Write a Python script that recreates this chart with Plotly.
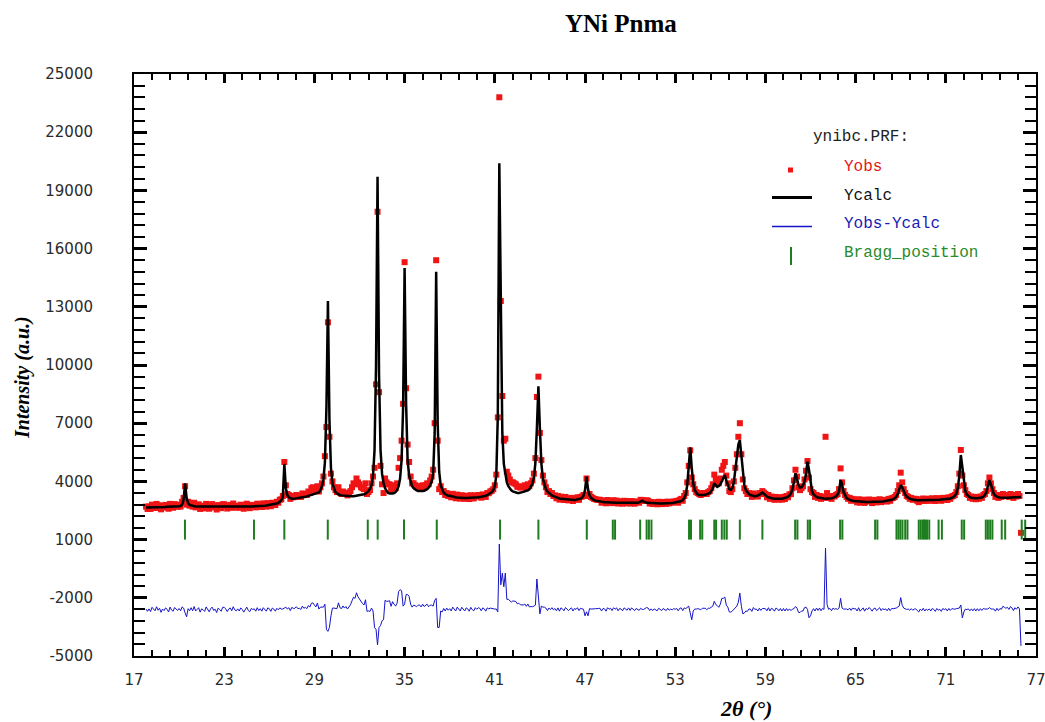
import plotly.graph_objects as go

# ---------------- data ----------------
scan_start = 17.8      # first 2-theta of the step scan
scan_step = 0.1        # step of the scan (deg)

# Ycalc, one row per degree (x.0 ... x.9)
y_calc = (
    [2650, 2650] +                                                   # 17.8-17.9
    [2650, 2660, 2660, 2660, 2670, 2670, 2670, 2680, 2680, 2680] +   # 18
    [2680, 2680, 2690, 2690, 2690, 2700, 2700, 2700, 2710, 2710] +   # 19
    [2720, 2740, 2790, 3050, 3900, 3150, 2880, 2790, 2760, 2740] +   # 20
    [2720, 2710, 2700, 2700, 2690, 2690, 2680, 2680, 2680, 2680] +   # 21
    [2680, 2680, 2680, 2680, 2680, 2680, 2680, 2680, 2680, 2680] +   # 22
    [2680, 2680, 2680, 2680, 2680, 2680, 2690, 2690, 2690, 2690] +   # 23
    [2690, 2690, 2690, 2700, 2700, 2700, 2700, 2710, 2710, 2710] +   # 24
    [2720, 2720, 2730, 2730, 2740, 2740, 2750, 2750, 2760, 2770] +   # 25
    [2780, 2790, 2800, 2820, 2840, 2860, 2890, 2940, 3030, 3200] +   # 26
    [4900, 3650, 3300, 3180, 3130, 3110, 3100, 3110, 3130, 3150] +   # 27
    [3160, 3170, 3180, 3200, 3210, 3230, 3250, 3270, 3300, 3330] +   # 28
    [3340, 3360, 3390, 3430, 3550, 3750, 4100, 5000, 7800, 13300] +  # 29
    [7200, 4700, 3900, 3600, 3450, 3380, 3330, 3300, 3280, 3270] +   # 30
    [3250, 3240, 3230, 3230, 3230, 3230, 3240, 3250, 3260, 3270] +   # 31
    [3290, 3300, 3320, 3340, 3370, 3420, 3500, 3620, 3800, 4300] +   # 32
    [5600, 10000, 19700, 9500, 5600, 4400, 3900, 3650, 3500, 3400] + # 33
    [3370, 3360, 3370, 3400, 3450, 3550, 3750, 4150, 5100, 7800] +   # 34
    [15000, 8000, 5100, 4300, 3950, 3750, 3650, 3580, 3530, 3500] +  # 35
    [3490, 3490, 3500, 3520, 3550, 3600, 3680, 3800, 4000, 4400] +   # 36
    [6500, 14800, 7000, 4500, 3800, 3550, 3420, 3350, 3300, 3260] +  # 37
    [3260, 3230, 3210, 3190, 3180, 3170, 3160, 3160, 3150, 3150] +   # 38
    [3150, 3150, 3150, 3150, 3150, 3150, 3160, 3160, 3170, 3180] +   # 39
    [3190, 3200, 3220, 3240, 3260, 3290, 3330, 3380, 3450, 3550] +   # 40
    [3750, 4300, 7400, 20400, 12000, 6500, 4900, 4300, 3950, 3750] + # 41
    [3620, 3540, 3480, 3440, 3410, 3400, 3400, 3410, 3430, 3460] +   # 42
    [3490, 3510, 3540, 3590, 3720, 3880, 4200, 4950, 6750, 8900] +   # 43
    [6700, 4900, 4150, 3800, 3600, 3480, 3400, 3330, 3280, 3240] +   # 44
    [3200, 3170, 3140, 3120, 3100, 3090, 3080, 3070, 3060, 3050] +   # 45
    [3050, 3040, 3040, 3040, 3050, 3060, 3080, 3110, 3160, 3260] +   # 46
    [3550, 4240, 3600, 3280, 3150, 3080, 3040, 3010, 2990, 2970] +   # 47
    [2960, 2950, 2940, 2930, 2930, 2920, 2920, 2910, 2910, 2910] +   # 48
    [2910, 2900, 2900, 2900, 2890, 2890, 2890, 2880, 2880, 2880] +   # 49
    [2880, 2880, 2880, 2880, 2890, 2900, 2920, 2960, 3010, 2960] +   # 50
    [2920, 2900, 2900, 2890, 2880, 2870, 2870, 2860, 2860, 2860] +   # 51
    [2860, 2860, 2860, 2860, 2870, 2870, 2880, 2880, 2890, 2900] +   # 52
    [2910, 2920, 2940, 2960, 2990, 3030, 3140, 3330, 3800, 4600] +   # 53
    [5750, 4700, 3900, 3550, 3400, 3330, 3300, 3290, 3290, 3300] +   # 54
    [3310, 3330, 3360, 3410, 3500, 3650, 3900, 3820, 3720, 3760] +   # 55
    [3850, 4000, 4200, 4330, 4050, 3750, 3600, 3560, 3650, 3950] +   # 56
    [4600, 5200, 5900, 6130, 5200, 4300, 3800, 3550, 3420, 3350] +   # 57
    [3300, 3270, 3250, 3240, 3250, 3270, 3310, 3370, 3420, 3360] +   # 58
    [3280, 3220, 3180, 3150, 3130, 3120, 3110, 3100, 3100, 3100] +   # 59
    [3100, 3110, 3120, 3140, 3170, 3210, 3270, 3380, 3600, 3980] +   # 60
    [4420, 4150, 3820, 3680, 3700, 3800, 3980, 4400, 5020, 4600] +   # 61
    [3900, 3500, 3330, 3250, 3200, 3170, 3150, 3140, 3130, 3120] +   # 62
    [3110, 3110, 3110, 3120, 3130, 3150, 3180, 3230, 3320, 3500] +   # 63
    [4070, 3850, 3450, 3250, 3150, 3090, 3050, 3020, 3000, 2990] +   # 64
    [2980, 2970, 2960, 2960, 2950, 2950, 2950, 2940, 2940, 2940] +   # 65
    [2940, 2940, 2940, 2950, 2950, 2950, 2960, 2960, 2970, 2980] +   # 66
    [2990, 3000, 3010, 3030, 3050, 3080, 3120, 3200, 3350, 3600] +   # 67
    [3810, 3700, 3500, 3330, 3220, 3150, 3110, 3080, 3060, 3050] +   # 68
    [3040, 3030, 3030, 3030, 3030, 3030, 3040, 3040, 3040, 3050] +   # 69
    [3050, 3050, 3050, 3060, 3060, 3060, 3060, 3070, 3070, 3070] +   # 70
    [3080, 3090, 3100, 3120, 3150, 3190, 3260, 3380, 3650, 4300] +   # 71
    [5360, 4700, 3900, 3500, 3330, 3240, 3190, 3160, 3140, 3130] +   # 72
    [3130, 3130, 3140, 3150, 3170, 3220, 3300, 3450, 3850, 4070] +   # 73
    [3850, 3550, 3350, 3260, 3210, 3180, 3170, 3160, 3160, 3160] +   # 74
    [3160, 3160, 3170, 3170, 3170, 3180, 3180, 3180, 3190, 3190] +   # 75
    [3200]                                                           # 76.0
)

# Yobs, same grid
y_obs = (
    [2700, 2580] +
    [2710, 2580, 2800, 2680, 2630, 2840, 2660, 2770, 2560, 2730] +
    [2650, 2790, 2730, 2590, 2840, 2700, 2640, 2830, 2780, 2690] +
    [2800, 2700, 2950, 3150, 3750, 2800, 2950, 2750, 2880, 2700] +
    [2900, 2660, 2730, 2820, 2580, 2750, 2690, 2610, 2840, 2670] +
    [2590, 2750, 2830, 2660, 2720, 2550, 2780, 2700, 2620, 2820] +
    [2820, 2740, 2600, 2730, 2790, 2640, 2860, 2700, 2650, 2750] +
    [2640, 2800, 2720, 2590, 2760, 2850, 2680, 2620, 2790, 2740] +
    [2780, 2660, 2850, 2700, 2810, 2680, 2870, 2760, 2700, 2880] +
    [2850, 2720, 2900, 2870, 2780, 2950, 2900, 3050, 3080, 3250] +
    [5000, 3800, 3350, 3300, 3100, 3250, 3180, 3200, 3300, 3220] +
    [3250, 3200, 3380, 3290, 3350, 3300, 3480, 3420, 3650, 3700] +
    [3600, 3520, 3750, 3480, 3700, 3900, 4250, 5300, 6800, 12200] +
    [6300, 4400, 4000, 3700, 3550, 3450, 3700, 3420, 3350, 3480] +
    [3350, 3420, 3280, 3400, 3500, 3700, 3900, 3850, 4150, 3950] +
    [3850, 3700, 3650, 3600, 3900, 3350, 3450, 3550, 3900, 4250] +
    [4700, 9000, 17900, 8600, 4800, 3850, 3400, 4150, 3950, 3850] +
    [3850, 3550, 3800, 3700, 3650, 3900, 4700, 5200, 6100, 8000] +
    [15300, 8800, 5900, 5000, 4250, 3900, 3900, 3800, 3700, 3750] +
    [3750, 3650, 3800, 3700, 3800, 3900, 3850, 4050, 4250, 4600] +
    [7000, 15400, 6100, 3600, 3750, 3450, 3500, 3300, 3400, 3250] +
    [3330, 3180, 3360, 3250, 3130, 3320, 3230, 3110, 3290, 3200] +
    [3100, 3260, 3210, 3090, 3290, 3170, 3120, 3280, 3210, 3300] +
    [3280, 3160, 3330, 3300, 3200, 3400, 3390, 3480, 3520, 3600] +
    [3800, 4350, 7300, 23800, 13300, 8400, 6100, 6200, 4500, 4300] +
    [4100, 3950, 3950, 3900, 3850, 3720, 3750, 3680, 3700, 3720] +
    [3800, 3700, 3850, 3750, 3900, 4050, 4400, 5200, 8350, 9400] +
    [6500, 5100, 4300, 3950, 3700, 3450, 3500, 3350, 3400, 3250] +
    [3280, 3130, 3250, 3060, 3210, 3150, 3040, 3200, 3120, 3020] +
    [3100, 3150, 2990, 3120, 3080, 3180, 3050, 3200, 3220, 3300] +
    [3250, 4150, 3300, 3350, 3200, 3150, 3100, 3080, 3050, 3050] +
    [3050, 2900, 3020, 2990, 2870, 3040, 2960, 3000, 2880, 3030] +
    [2950, 3010, 2860, 2980, 2940, 2850, 3000, 2920, 2870, 2990] +
    [2860, 2990, 2930, 2850, 2970, 2940, 2900, 3050, 3040, 2990] +
    [2990, 3030, 3000, 2860, 2940, 2840, 2930, 2880, 2820, 2950] +
    [2900, 2830, 2940, 2880, 2840, 2960, 2870, 2930, 2900, 2970] +
    [2950, 3000, 2900, 3050, 3100, 3000, 3250, 3400, 3950, 4800] +
    [5600, 4200, 3850, 3600, 3450, 3400, 3350, 3300, 3380, 3400] +
    [3400, 3350, 3450, 3500, 3650, 3850, 4350, 4100, 3950, 3900] +
    [4150, 4600, 4800, 5000, 4300, 3900, 3500, 3450, 3600, 4000] +
    [4700, 5400, 6300, 7000, 5400, 4100, 3650, 3500, 3350, 3400] +
    [3350, 3200, 3380, 3270, 3300, 3220, 3400, 3350, 3500, 3420] +
    [3350, 3180, 3300, 3100, 3220, 3170, 3050, 3200, 3160, 3060] +
    [3180, 3060, 3200, 3090, 3250, 3180, 3330, 3350, 3650, 4050] +
    [4600, 4250, 3700, 3550, 3650, 3750, 4100, 4550, 5050, 4200] +
    [3600, 3450, 3400, 3200, 3300, 3150, 3250, 3100, 3220, 3150] +
    [6300, 3400, 3150, 3200, 3100, 3250, 3220, 3300, 3350, 3600] +
    [4670, 3950, 3500, 3300, 3200, 3100, 3150, 3000, 3100, 3050] +
    [3050, 2920, 3080, 2900, 3000, 3060, 2890, 3020, 2960, 3070] +
    [2990, 2880, 3010, 3050, 2920, 3000, 3080, 2930, 3040, 3000] +
    [3050, 2960, 3100, 3000, 3130, 3150, 3200, 3300, 3500, 3800] +
    [4450, 3950, 3600, 3400, 3250, 3200, 3100, 3150, 3050, 3100] +
    [3100, 3000, 2930, 3080, 3000, 3120, 2990, 3090, 3020, 3110] +
    [3000, 3130, 3080, 2990, 3140, 3050, 3100, 3000, 3150, 3090] +
    [3150, 3040, 3180, 3100, 3220, 3250, 3300, 3450, 3750, 4400] +
    [5620, 4300, 3800, 3550, 3350, 3300, 3150, 3220, 3100, 3200] +
    [3080, 3200, 3100, 3220, 3150, 3300, 3350, 3500, 3900, 4200] +
    [3900, 3600, 3400, 3200, 3300, 3150, 3250, 3200, 3350, 3300] +
    [3250, 3300, 3200, 3350, 3280, 3150, 3300, 3220, 3350, 3250] +
    [1350]
)

bragg_positions = [
    20.39, 24.98, 27.0, 29.89, 32.55, 33.21, 34.96, 37.14, 41.35, 43.9,
    47.12, 48.85, 49.0, 50.67, 51.1, 51.25, 51.42, 53.92, 54.05, 54.66,
    54.8, 55.6, 55.72, 56.1, 56.27, 56.43, 57.3, 58.8, 60.98, 61.13,
    61.82, 61.97, 63.97, 64.12, 66.3, 66.45, 67.72, 67.85, 67.98, 68.12,
    68.3, 68.45, 69.2, 69.33, 69.45, 69.55, 69.65, 69.75, 69.9, 70.52,
    70.74, 72.06, 72.22, 73.66, 73.8, 73.95, 74.1, 74.72, 74.95, 76.05,
    76.28,
]

diff_offset = -2630            # Yobs-Ycalc is drawn shifted down
bragg_low, bragg_high = 1000, 2030

x_ticks = [17, 23, 29, 35, 41, 47, 53, 59, 65, 71, 77]
y_ticks = [-5000, -2000, 1000, 4000, 7000, 10000, 13000, 16000, 19000, 22000, 25000]
x_tick_labels = [str(v) for v in x_ticks]
y_tick_labels = [str(v) for v in y_ticks]

# ---------------- derived series ----------------
two_theta = [round(scan_start + i * scan_step, 2) for i in range(len(y_obs))]
y_diff = [o - c + diff_offset for o, c in zip(y_obs, y_calc)]
bx, by = [], []
for p in bragg_positions:
    bx += [p, p, None]
    by += [bragg_low, bragg_high, None]

RED = "#f01414"
BLUE = "#1414c8"
GREEN = "#1e7d1e"

fig = go.Figure()
fig.add_trace(go.Scatter(x=two_theta, y=y_obs, mode="markers", name="Yobs",
                         marker=dict(symbol="square", size=6, color=RED, line=dict(width=0))))
fig.add_trace(go.Scatter(x=two_theta, y=y_calc, mode="lines", name="Ycalc",
                         line=dict(color="black", width=2.5)))
fig.add_trace(go.Scatter(x=two_theta, y=y_diff, mode="lines", name="Yobs-Ycalc",
                         line=dict(color=BLUE, width=1)))
fig.add_trace(go.Scatter(x=bx, y=by, mode="lines", name="Bragg_position",
                         line=dict(color=GREEN, width=2)))

# ---------------- layout ----------------
W, H = 1045, 722
PL, PR, PT, PB = 134, 1036, 74, 656


def fx(px):
    return (px - PL) / (PR - PL)


def fy(py):
    return (PB - py) / (PB - PT)


tickfont = dict(family="DejaVu Sans", size=15, color="#2a2a2a")

fig.update_layout(
    width=W, height=H,
    margin=dict(l=PL, r=W - PR, t=PT, b=H - PB, pad=0, autoexpand=False),
    plot_bgcolor="white", paper_bgcolor="white",
    showlegend=False,
    xaxis=dict(range=[17, 77], tickmode="array", tickvals=x_ticks, ticktext=x_tick_labels,
               ticks="inside", ticklen=9, tickwidth=2.5, tickcolor="black",
               showline=True, linewidth=2, linecolor="black", mirror="ticks",
               showgrid=False, zeroline=False, tickfont=tickfont, ticklabelstandoff=9,
               automargin=False, ticklabeloverflow="allow",
               minor=dict(tickmode="linear", tick0=17, dtick=1.2, ticks="inside",
                          ticklen=6, tickwidth=1.5, tickcolor="black", showgrid=False)),
    yaxis=dict(range=[-5000, 25000], tickmode="array", tickvals=y_ticks, ticktext=y_tick_labels,
               ticks="inside", ticklen=13, tickwidth=2.5, tickcolor="black",
               showline=True, linewidth=2, linecolor="black", mirror="ticks",
               showgrid=False, zeroline=False, tickfont=tickfont, ticklabelstandoff=36,
               automargin=False, ticklabeloverflow="allow",
               minor=dict(tickmode="linear", tick0=-5000, dtick=600, ticks="inside",
                          ticklen=11, tickwidth=1.5, tickcolor="black", showgrid=False)),
)

serif = "Liberation Serif, Times New Roman, serif"
mono = "Liberation Mono, Courier New, monospace"
ann = [
    dict(text="<b>YNi Pnma</b>", x=fx(621), y=fy(23), font=dict(family=serif, size=25, color="black"),
         xanchor="center", yanchor="middle"),
    dict(text="<b><i>Intensity (a.u.)</i></b>", x=fx(23), y=fy(378), textangle=-90,
         font=dict(family=serif, size=20, color="black"), xanchor="center", yanchor="middle"),
    dict(text="<b><i>2θ (°)</i></b>", x=fx(746), y=fy(709),
         font=dict(family=serif, size=22, color="black"), xanchor="center", yanchor="middle"),
    dict(text="ynibc.PRF:", x=fx(811), y=fy(137), font=dict(family=mono, size=16, color="#222222"),
         xanchor="left", yanchor="middle"),
    dict(text="Yobs", x=fx(842), y=fy(167), font=dict(family=mono, size=16, color="#e01818"),
         xanchor="left", yanchor="middle"),
    dict(text="Ycalc", x=fx(842), y=fy(196), font=dict(family=mono, size=16, color="#111111"),
         xanchor="left", yanchor="middle"),
    dict(text="Yobs-Ycalc", x=fx(842), y=fy(224), font=dict(family=mono, size=16, color="#1a1ab4"),
         xanchor="left", yanchor="middle"),
    dict(text="Bragg_position", x=fx(842), y=fy(253), font=dict(family=mono, size=16, color="#2a8a2a"),
         xanchor="left", yanchor="middle"),
]
for a in ann:
    a.update(xref="paper", yref="paper", showarrow=False)
fig.update_layout(annotations=ann)

shapes = [
    dict(type="rect", x0=fx(788), x1=fx(793), y0=fy(167.5), y1=fy(172.5),
         fillcolor=RED, line=dict(width=0)),
    dict(type="line", x0=fx(772), x1=fx(812), y0=fy(197.5), y1=fy(197.5),
         line=dict(color="black", width=3)),
    dict(type="line", x0=fx(772), x1=fx(812), y0=fy(226.5), y1=fy(226.5),
         line=dict(color=BLUE, width=1.5)),
    dict(type="line", x0=fx(791), x1=fx(791), y0=fy(247), y1=fy(265),
         line=dict(color=GREEN, width=2)),
]
for s in shapes:
    s.update(xref="paper", yref="paper")
fig.update_layout(shapes=shapes)

fig.write_html("out.html")
